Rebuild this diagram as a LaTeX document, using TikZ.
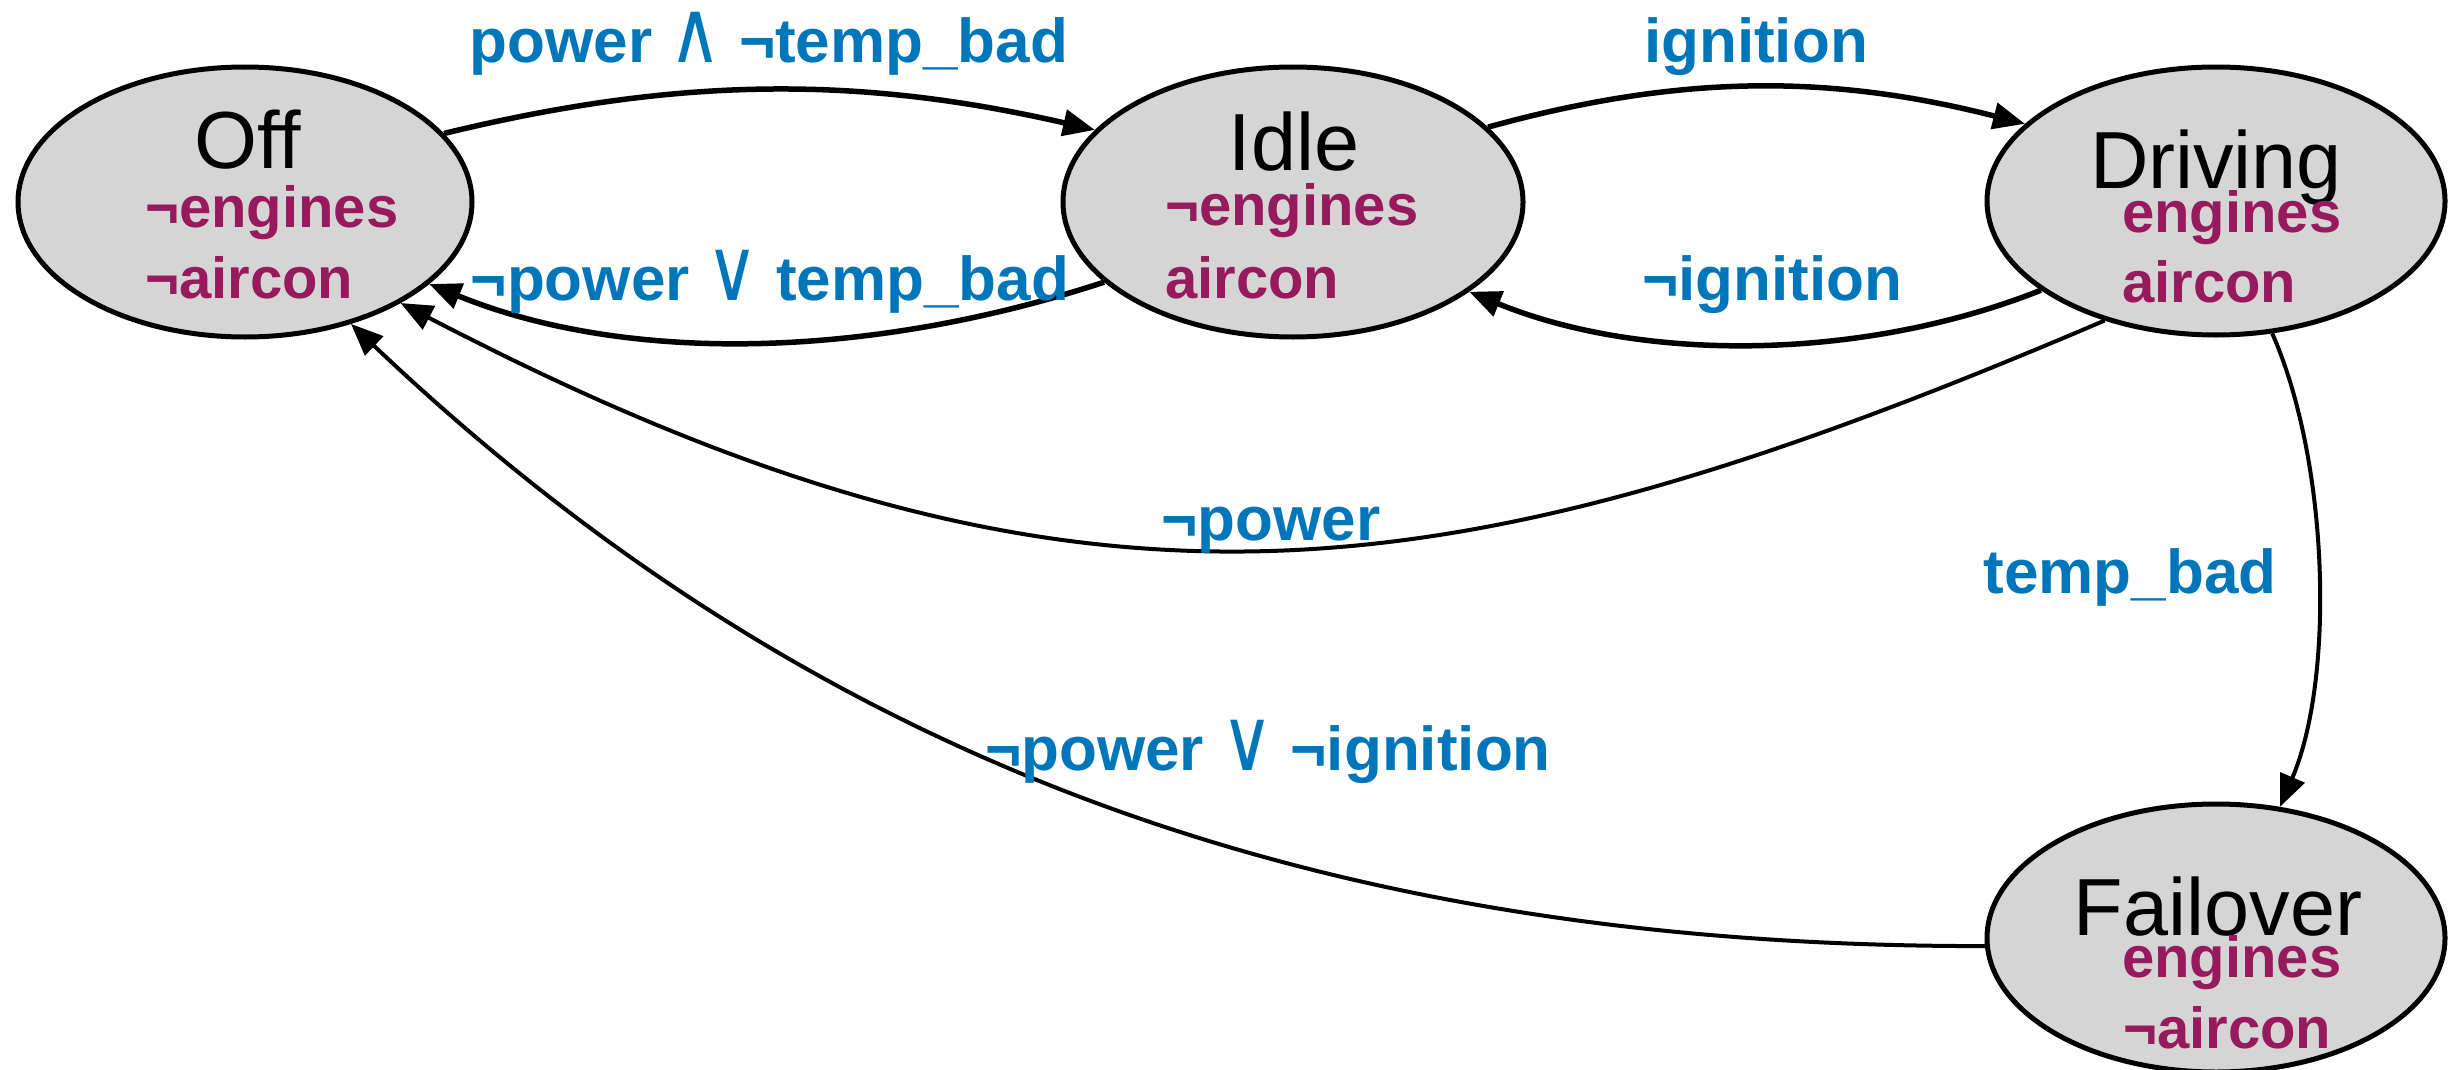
\documentclass[tikz,border=0pt]{standalone}
\usepackage{fontspec}
\setmainfont{Liberation Sans}
\newfontfamily\symf{DejaVu Sans}
\usetikzlibrary{arrows.meta,shapes.geometric}
\definecolor{lblblue}{HTML}{0076BA}
\definecolor{varpurple}{HTML}{961A5C}
\definecolor{stategray}{HTML}{D5D5D5}
\newcommand{\mywedge}{\scalebox{1.15}[1.4]{\symf\fontseries{m}\selectfont ∧}}
\newcommand{\myvee}{\scalebox{1.15}[1.4]{\symf\fontseries{m}\selectfont ∨}}
\begin{document}
\begin{tikzpicture}[x=1pt,y=-1pt,
  statebox/.style={ellipse,draw=black,line width=5pt,fill=stategray,inner sep=0pt},
  statename/.style={anchor=base,inner sep=0pt,font=\fontsize{81}{90}\selectfont},
  varlbl/.style={anchor=base west,inner sep=0pt,text=varpurple,font=\fontsize{58}{66}\selectfont\bfseries},
  edgelbl/.style={anchor=base,inner sep=0pt,text=lblblue,font=\fontsize{62}{70}\selectfont\bfseries},
  trans/.style={line width=5.5pt,-{Triangle[length=32pt,width=26pt]}},
  thintrans/.style={line width=4pt,-{Triangle[length=32pt,width=26pt]}}]
\useasboundingbox (0,0) rectangle (2451,1070);

% states
\node[statebox,minimum width=454pt,minimum height=270pt] (off) at (245,202) {};
\node[statebox,minimum width=460pt,minimum height=270pt] (idle) at (1293,202) {};
\node[statebox,minimum width=458pt,minimum height=268pt] (driving) at (2216,201) {};
\node[statebox,minimum width=458pt,minimum height=268pt] (failover) at (2216,938) {};

% state texts
\node[statename] (offname) at (248,168) {Off};
\node[varlbl] (offv1) at (145,227) {¬engines};
\node[varlbl] (offv2) at (145,298) {¬aircon};

\node[statename] (idlename) at (1294,170) {Idle};
\node[varlbl] (idlev1) at (1165,225) {¬engines};
\node[varlbl] (idlev2) at (1165,298) {aircon};

\node[statename] (drivname) at (2216,188) {Driving};
\node[varlbl] (drivv1) at (2122,232) {engines};
\node[varlbl] (drivv2) at (2122,302) {aircon};

\node[statename] (failname) at (2218,935) {Failover};
\node[varlbl] (failv1) at (2122,977) {engines};
\node[varlbl] (failv2) at (2123,1048) {¬aircon};

% transitions
\draw[trans] (off.19) .. controls (680,76) and (860,76) .. (idle.160.6);
\draw[trans] (idle.21.4) .. controls (1680,74) and (1830,74) .. (driving.158.9);
\draw[trans] (idle.203.3) .. controls (860,362) and (620,362) .. (off.336.4);
\draw[trans] (driving.207.2) .. controls (1860,362) and (1640,362) .. (idle.333.3);
\draw[thintrans] (driving.227.5) .. controls (1450,600) and (1080,657) .. (off.327.5);
\draw[thintrans] (driving.293.4) .. controls (2329,462) and (2335,678) .. (failover.64.7);
\draw[thintrans] (failover.182.3) .. controls (1300,947) and (800,750) .. (off.311.8);

% transition labels
\node[edgelbl] (l1) at (769,63) {power \mywedge{} ¬temp\_bad};
\node[edgelbl] (l2) at (1756,63) {ignition};
\node[edgelbl] (l3) at (770,300) {¬power \myvee{} temp\_bad};
\node[edgelbl] (l4) at (1772,300) {¬ignition};
\node[edgelbl] (l5) at (1271,540) {¬power};
\node[edgelbl] (l6) at (2130,593) {temp\_bad};
\node[edgelbl] (l7) at (1268,770) {¬power \myvee{} ¬ignition};
\end{tikzpicture}
\end{document}
